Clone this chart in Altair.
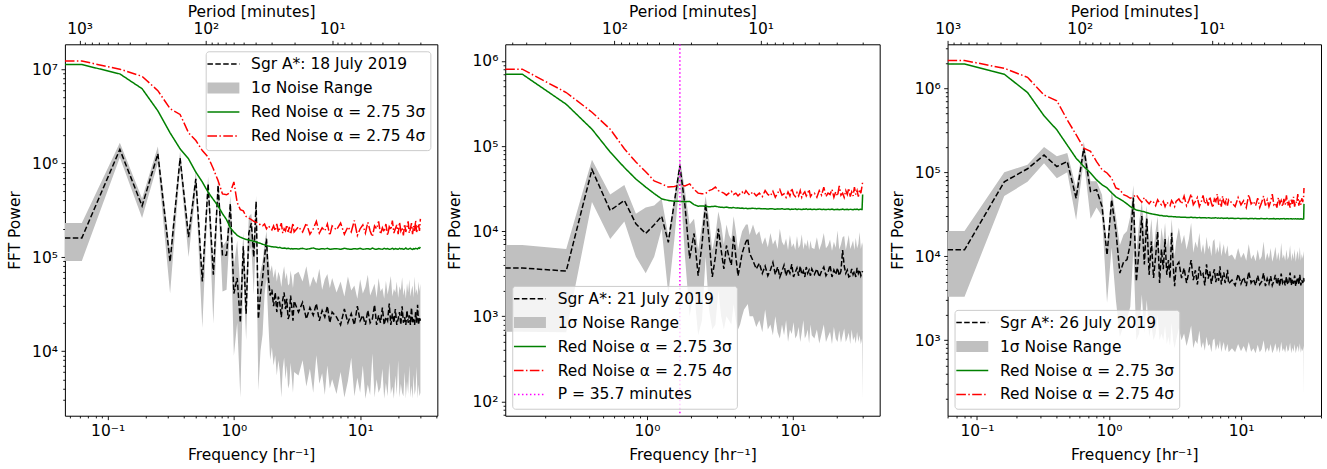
import altair as alt
import pandas as pd

FONT = "DejaVu Sans"
FS = 15.5

# ---------------- Panel 1: 18 July 2019 (bin width 0.0625 hr^-1) ----------------
DF1 = 0.0625
BINS1 = list(range(1, 49)) + list(range(52, 97, 4)) + list(range(104, 481, 8))
BLACK1 = [160, 1400, 350, 1260, 89, 1130, 163, 680, 55, 600, 65, 580, 104, 105, 370, 41, 60, 20, 130, 25,
          180, 230, 100, 390, 22, 40, 60, 100, 157, 60, 39, 45, 30, 42, 26, 38, 32, 23, 35, 42,
          28, 36, 22, 24, 39, 29, 21, 34,
          26, 33, 22, 29, 24, 32, 21, 27, 23, 30, 20, 26,
          23, 19, 28, 20, 25, 19, 30, 21, 24, 19, 27, 20, 22, 31, 19, 24, 20, 29, 19, 23,
          21, 32, 19, 25, 20, 28, 19, 22, 26, 19, 30, 20, 23, 19, 27, 20, 24, 19, 29, 20,
          22, 19, 26, 20, 31, 19, 23, 21]
LO1 = [91, 1150, 260, 1000, 41, 900, 100, 520, 17.6, 480, 19.5, 450, 43, 45, 250, 8.9, 20, 3.2, 70, 13,
       110, 130, 40, 200, 3.8, 10, 15, 40, 60, 20, 8, 11, 7, 9, 5.5, 8, 6, 3.2, 6.5, 8.5,
       5, 7, 4, 4.5, 7.5, 5.2, 3.6, 6,
       5.5, 8, 4.2, 6.5, 3.6, 9, 4.5, 5.8, 3.4, 7, 4, 5,
       3.5, 6, 3.2, 4.8, 8.5, 3.3, 5.2, 3.6, 7, 3.1, 4.4, 3.4, 9.4, 3.2, 5, 3.6, 4.1, 6.5, 3.1, 4.6,
       3.3, 7.5, 3.5, 4.2, 3.1, 5.5, 3.4, 8, 3.2, 4.5, 3.6, 3.3, 6, 3.1, 4.8, 3.5, 7, 3.2, 4.3, 3.1,
       5.6, 3.4, 3.9, 6.8, 3.1, 4.4, 3.3, 3.6]
HI1 = [230, 1650, 420, 1500, 115, 1350, 200, 820, 70, 720, 85, 700, 130, 150, 450, 80, 150, 45, 180, 50,
       270, 290, 140, 450, 50, 70, 90, 140, 190, 100, 70, 82, 60, 75, 55, 70, 62, 48, 66, 80,
       58, 68, 50, 52, 72, 60, 47, 65,
       70, 55, 80, 48, 62, 52, 75, 45, 58, 66, 47, 60,
       42, 55, 38, 62, 44, 50, 36, 58, 41, 48, 65, 39, 45, 52, 37, 60, 43, 47, 36, 56,
       40, 50, 63, 38, 46, 42, 55, 37, 49, 44, 61, 39, 47, 36, 53, 42, 58, 38, 45, 50,
       37, 62, 41, 46, 39, 55, 43, 52]
GREEN1 = [11200, 8900, 6200, 3600, 2100, 1420, 1110, 800, 630, 490, 410, 350, 290, 250, 205, 185, 170, 163, 158, 154,
          152, 150, 147, 145, 142, 140, 137, 135, 133, 131, 130, 129, 128, 128, 127, 126, 127, 125, 124, 125,
          124, 123, 124, 123, 122, 123, 122, 123,
          122, 124, 121, 123, 125, 122, 121, 123, 122, 124, 121, 122,
          123, 121, 124, 122, 121, 123, 122, 124, 121, 122, 123, 121, 125, 122, 121, 123, 122, 121, 124, 122,
          123, 121, 122, 124, 121, 123, 122, 121, 124, 122, 123, 121, 122, 125, 122, 121, 123, 124, 122, 121,
          123, 122, 124, 123, 122, 125, 124, 128]
RED1 = [12200, 10000, 8400, 5900, 3800, 3300, 2100, 1740, 1360, 1160, 870, 650, 470, 460, 490, 630, 380, 320, 310, 270,
        260, 250, 240, 235, 230, 220, 215, 225, 200, 215, 205, 195, 215, 190, 225, 185, 205, 230, 180, 200,
        190, 220, 185, 210, 175, 200, 230, 185,
        210, 185, 230, 175, 200, 240, 180, 205, 190, 225, 170, 215,
        195, 230, 175, 210, 185, 245, 170, 200, 220, 180, 235, 190, 165, 215, 200, 240, 175, 205, 185, 225,
        170, 210, 195, 245, 180, 200, 220, 175, 235, 190, 205, 170, 225, 185, 210, 240, 180, 200, 230, 175,
        215, 190, 245, 185, 205, 225, 190, 255]

# ---------------- Panel 2: 21 July 2019 (bin width 0.14006 hr^-1) ----------------
DF2 = 0.14006
BINS2 = list(range(1, 37)) + list(range(38, 97, 2)) + list(range(100, 213, 4)) + [214]
BLACK2 = [3.7, 3.4, 53, 17.5, 23, 12.2, 9.4, 11.9, 15, 7.4, 22, 59, 20, 4.8, 9.4, 3.0, 7, 21, 8, 2.9,
          5, 10.7, 6, 3.6, 6.8, 5, 4, 9, 5, 3.0, 4, 5.5, 6.5, 7.5, 8.2, 5.5,
          4.5, 3.6, 4.2, 3.2, 3.9, 3.0, 3.5, 4.3, 3.1, 3.8, 2.9, 3.4, 4.0, 3.0, 3.6, 3.2, 4.1, 2.9, 3.3, 3.7,
          3.0, 3.9, 3.1, 3.4, 2.9, 3.8, 3.2, 3.5, 3.0, 3.6,
          3.1, 3.6, 2.9, 3.4, 3.8, 3.0, 3.3, 4.0, 2.9, 3.5, 3.1, 3.7, 3.0, 3.4, 6.0, 3.9, 3.2, 3.5, 2.9, 3.0,
          3.6, 3.1, 3.4, 2.9, 3.7, 3.2, 3.5, 3.0, 3.3, 3.4]
LO2 = [0.66, 0.65, 22, 8.1, 13, 5, 3.2, 5, 10.7, 1.8, 8, 43, 5, 1.0, 2, 0.6, 0.9, 5, 1.2, 0.7,
       0.8, 2, 1, 0.7, 1, 0.9, 0.8, 1.4, 0.9, 0.7, 0.8, 1.0, 1.2, 1.3, 1.4, 1.0,
       1.0, 0.75, 0.9, 0.65, 1.2, 0.7, 0.8, 0.6, 1.0, 0.65, 0.55, 0.8, 0.6, 0.9, 0.5, 0.7, 0.62, 0.85, 0.55, 0.6,
       0.75, 0.5, 0.65, 0.9, 0.55, 0.6, 0.7, 0.48, 0.8, 0.6,
       0.55, 0.7, 0.48, 0.62, 0.8, 0.5, 0.58, 0.66, 0.47, 0.75, 0.55, 0.5, 0.68, 0.49, 0.6, 0.72, 0.5, 0.56, 0.64, 0.47,
       0.7, 0.52, 0.58, 0.48, 0.66, 0.5, 0.6, 0.47, 0.55, 0.105]
HI2 = [6.9, 6.2, 69, 27, 35, 16, 19, 20, 24, 8.9, 25, 71, 30, 12, 14, 6, 12, 26, 14, 6,
       9, 17, 12, 7, 12, 9, 8, 15, 10, 6, 8, 10, 11, 12, 12, 9,
       12, 9, 10, 7, 8.5, 6.5, 9.5, 7, 8, 6.2, 10.7, 7.5, 6.8, 8.2, 6, 9, 6.5, 7.2, 6, 8.8,
       6.3, 7, 9.2, 6.1, 7.4, 6.6, 8, 6, 7.8, 6.4,
       6.2, 8.5, 6.0, 7.2, 9.5, 6.3, 6.8, 8.0, 5.9, 7.5, 6.4, 10.2, 6.1, 7.0, 8.5, 8.8, 6.0, 7.3, 9.0, 6.2,
       6.9, 7.8, 6.0, 8.4, 6.3, 7.1, 9.8, 6.2, 7.4, 6.8]
GREEN2 = [700, 310, 158, 85, 56, 41, 33, 27.7, 24, 23, 22.5, 22.4, 22.2, 22.4, 20.5, 19.7, 19.8, 19.6, 19.4, 19.5,
          19.7, 19.3, 19.1, 19.0, 19.2, 18.9, 18.8, 19.0, 18.7, 18.8, 18.6, 18.7, 18.5, 18.6, 18.4, 18.5,
          18.6, 18.4, 18.5, 18.3, 18.4, 18.2, 18.4, 18.3, 18.1, 18.3, 18.2, 18.4, 18.1, 18.2, 18.3, 18.0, 18.2, 18.1,
          18.3, 18.0, 18.2, 18.1, 18.0, 18.2, 18.1, 18.3, 18.0, 18.1, 18.2, 18.0,
          18.1, 18.0, 18.2, 18.0, 18.1, 17.9, 18.1, 18.0, 18.2, 17.9, 18.0, 18.1, 17.9, 18.0, 18.2, 17.9, 18.0, 18.1,
          17.9, 18.1, 18.0, 17.9, 18.1, 18.0, 18.2, 17.9, 18.0, 18.1, 18.0, 27.0]
RED2 = [800, 426, 250, 158, 93, 65, 50, 39, 36, 33, 33.5, 35, 34, 36, 31, 28, 27.5, 27.7, 30, 31,
        33, 30, 29, 28, 26.5, 28, 29.5, 27, 28, 26, 27.5, 29, 27, 30, 28, 26.5,
        29, 26, 28, 25.5, 30, 27, 26, 29.5, 25, 28, 31, 26.5, 27.5, 25, 29, 26, 32, 27, 25.5, 28.5,
        26, 30, 25, 27.5, 29, 26, 28, 31, 25.5, 27,
        28, 25, 30, 26.5, 33, 25.5, 28, 27, 31, 25, 29, 26, 34, 26.5, 28, 25, 30, 27, 32, 25.5,
        29, 26, 33, 27, 30, 25.5, 31, 28, 34, 38]
PERIOD2 = 35.7

# ---------------- Panel 3: 26 July 2019 (bin width 0.0805 hr^-1) ----------------
DF3 = 0.0805
BINS3 = list(range(1, 41)) + list(range(42, 101, 2)) + list(range(106, 371, 6)) + [372]
BLACK3 = [11.9, 77, 110, 160, 117, 134, 49, 193, 59, 62, 39, 10.3, 47, 20, 6.3, 8.5, 9.1, 14, 50, 5.0,
          12, 30, 8, 28, 6, 15, 5.5, 10, 19.5, 4.8, 12, 7, 16, 6, 9, 5.5, 19, 8, 4.4, 7.6,
          8.5, 5.5, 7.2, 4.8, 6.5, 9.0, 5.2, 6.8, 4.6, 7.5, 5.8, 6.2, 4.5, 8.0, 5.4, 6.6, 4.7, 5.9, 7.0, 4.9,
          6.3, 5.1, 7.6, 4.6, 5.7, 6.4, 4.8, 5.5, 6.9, 4.7,
          5.2, 4.5, 6.1, 4.7, 5.6, 4.4, 6.5, 4.8, 5.3, 4.5, 5.9, 4.6, 5.0, 6.3, 4.4, 5.4, 4.7, 5.8, 4.5, 5.1,
          6.0, 4.6, 5.5, 4.4, 6.2, 4.8, 5.2, 4.5, 5.7, 4.6, 5.0, 6.4, 4.5, 5.3, 4.7, 5.9, 4.4, 5.1, 5.6, 4.6,
          6.0, 4.5, 5.2, 4.8, 5.5, 5.0]
LO3 = [3.3, 52, 77, 128, 85, 100, 27, 140, 28, 38, 30, 2.8, 12.6, 3, 1.1, 1.5, 1.8, 2.5, 12, 1.0,
       1.2, 3.5, 1.2, 3, 1.1, 1.5, 1.0, 1.2, 2, 1.0, 1.2, 1.0, 1.5, 0.9, 1.1, 0.85, 1.6, 1.0, 0.8, 1.0,
       1.4, 1.0, 1.2, 0.85, 1.1, 1.5, 0.8, 1.0, 0.9, 1.3, 0.8, 0.95, 0.75, 1.1, 0.85, 0.9, 0.72, 1.0, 1.05, 0.75,
       0.9, 0.78, 1.0, 0.72, 0.85, 0.95, 0.74, 0.8, 0.9, 0.72,
       0.8, 0.72, 0.9, 0.74, 0.85, 0.71, 0.95, 0.73, 0.8, 0.7, 0.88, 0.72, 0.78, 1.0, 0.71, 0.82, 0.73, 0.9, 0.7, 0.78,
       0.92, 0.72, 0.84, 0.7, 0.96, 0.74, 0.8, 0.71, 0.88, 0.73, 0.77, 0.93, 0.7, 0.82, 0.73, 0.9, 0.7, 0.79, 0.86, 0.72,
       0.92, 0.71, 0.8, 0.74, 0.85, 0.215]
HI3 = [20, 100, 123, 200, 155, 170, 65, 230, 78, 78, 54, 13.5, 62, 30, 13.5, 18, 20, 30, 70, 11,
       25, 45, 20, 40, 15, 28, 12, 20, 30, 11, 22, 15, 25, 13, 18, 12, 28, 16, 10, 15,
       22, 14, 18, 12, 16, 25, 11, 15, 12.5, 19, 11, 14, 10.5, 17, 12, 13.5, 10, 15, 16, 10.5,
       13, 11, 15.5, 10, 12, 14, 10.5, 11.5, 13.5, 10,
       10.5, 9.0, 12.5, 9.5, 11, 8.8, 14, 9.2, 10.5, 8.7, 12, 9.0, 10, 15, 8.8, 11, 9.3, 12.5, 8.6, 10.2,
       13, 9.0, 11.2, 8.7, 14.5, 9.4, 10.5, 8.8, 12, 9.1, 10, 13.5, 8.7, 11, 9.2, 12.2, 8.6, 10.4, 11.6, 9.0,
       13, 8.8, 10.6, 9.3, 11.5, 9.5]
GREEN3 = [1950, 1470, 890, 470, 320, 210, 147, 117, 98, 81, 71, 65, 57, 51, 48, 45, 42, 39, 37, 35.5,
          35, 34.3, 33.8, 33, 32.4, 32, 31.6, 31.3, 31, 30.6, 30.5, 30.2, 30, 30.1, 29.8, 29.7, 29.8, 29.5, 29.6, 29.4,
          29.3, 29.1, 29.2, 29.0, 28.9, 29.1, 28.8, 28.9, 28.7, 28.9, 28.6, 28.8, 28.7, 28.5, 28.7, 28.6, 28.4, 28.6,
          28.5, 28.7, 28.4, 28.5, 28.3, 28.5, 28.4, 28.2, 28.4, 28.3, 28.5, 28.2,
          28.3, 28.1, 28.3, 28.0, 28.2, 28.1, 27.9, 28.2, 28.0, 28.1, 27.9, 28.0, 28.2, 27.9, 28.0, 28.1, 27.8, 28.0,
          27.9, 28.1, 27.8, 28.0, 27.9, 27.8, 28.0, 27.9, 28.1, 27.8, 27.9, 28.0, 27.8, 27.9, 28.0, 27.7, 27.9, 27.8,
          28.0, 27.7, 27.9, 27.8, 27.7, 27.9, 27.8, 27.6, 27.8, 42]
RED3 = [2140, 1730, 1350, 830, 710, 420, 280, 193, 177, 134, 107, 98, 85, 65, 62, 54, 52, 49, 51, 54,
        48, 44, 50, 45, 42, 46, 44, 40, 47, 43, 41, 45, 39, 44, 42, 40, 46, 43, 39, 45,
        48, 42, 52, 40, 46, 55, 41, 45, 50, 39, 44, 53, 42, 47, 40, 51, 43, 38, 48, 45,
        55, 41, 46, 39, 52, 44, 42, 49, 40, 47,
        43, 39, 50, 41, 46, 38, 54, 42, 45, 40, 49, 38, 44, 52, 40, 47, 39, 45, 55, 41,
        43, 38, 50, 42, 46, 39, 48, 41, 53, 40, 44, 38, 47, 42, 51, 39, 45, 43, 55, 40,
        46, 41, 49, 44, 52, 65]

UNIT = 1e3  # all power values above are in thousands

LBL_NOISE = "1σ Noise Range"
LBL_3S = "Red Noise α = 2.75 3σ"
LBL_4S = "Red Noise α = 2.75 4σ"
LBL_P = "P = 35.7 minutes"

SUPS = {-2: "⁻²", -1: "⁻¹", 0: "⁰", 1: "¹", 2: "²", 3: "³", 4: "⁴", 5: "⁵", 6: "⁶", 7: "⁷", 8: "⁸"}
EXP = "round(log(datum.value)/LN10)"
MAJOR = "abs(log(datum.value)/LN10 - round(log(datum.value)/LN10)) < 0.001"
chain = "''"
for e in sorted(SUPS, reverse=True):
    chain = f"({EXP} == {e} ? '{SUPS[e]}' : {chain})"
LABEL_EXPR = f"{MAJOR} ? '10' + {chain} : ''"


def dash_path(pattern, half_h, x0=-16.0, x1=16.0):
    """Legend glyph: filled segments following a dash pattern (pixel units)."""
    parts, x, i = [], x0, 0
    while x < x1 - 0.3:
        seg = pattern[i % len(pattern)]
        if i % 2 == 0:
            xe = min(x + seg, x1)
            parts.append(f"M{x:.2f},{-half_h}H{xe:.2f}V{half_h}H{x:.2f}Z")
        x += seg
        i += 1
    return "".join(parts)


def log_ticks(lo, hi):
    vals = []
    for e in range(-3, 9):
        for m in range(1, 10):
            v = m * 10.0 ** e
            if lo <= v <= hi:
                vals.append(v)
    return vals


def axis(orient, title, values, title_padding):
    return alt.Axis(
        orient=orient, title=title, values=values, labelExpr=LABEL_EXPR,
        tickSize={"condition": {"test": MAJOR, "value": 3.9}, "value": 2.2},
        tickWidth=0.9, tickColor="black", domain=False, grid=False,
        labelFont=FONT, labelFontSize=FS, labelColor="black", labelPadding=3.5,
        titleFont=FONT, titleFontSize=FS, titleFontWeight="normal", titleColor="black",
        titlePadding=title_padding, labelOverlap=False, labelFlush=False,
    )


def panel(df, bins, black, lo, hi, green, red, xdom, ydom, date_lbl, width, orient, period=None):
    series = [black, lo, hi, green, red]
    assert all(len(s) == len(bins) for s in series), [len(s) for s in series]
    freqs = [b * df for b in bins]
    # the DC bin (f = 0) is clipped by the log axis: it shows as a flat run to the left frame edge
    fr = [xdom[0]] + freqs
    ext = lambda v: [v[0] * UNIT] + [x * UNIT for x in v]
    blk, low, high, grn, rd = (ext(s) for s in series)

    labels = [f"Sgr A*: {date_lbl}", LBL_NOISE, LBL_3S, LBL_4S]
    colors = ["black", "#c0c0c0", "#008000", "#ff0000"]
    dashes = [[5.5, 2.4], [1, 0], [1, 0], [9.6, 2.4, 1.5, 2.4]]
    glyphs = [dash_path([5.5, 2.4], 0.75), "M-16,-5.5H16V5.5H-16Z", "M-16,-0.75H16V0.75H-16Z",
              dash_path([9.6, 2.4, 1.5, 2.4], 0.75)]
    if period is not None:
        labels.append(LBL_P)
        colors.append("#ff00ff")
        dashes.append([1.5, 2.5])
        glyphs.append(dash_path([1.5, 2.5], 0.75))
    glyph_expr = "'circle'"
    for lbl, g in reversed(list(zip(labels, glyphs))):
        glyph_expr = f"(datum.value == '{lbl}' ? '{g}' : {glyph_expr})"

    band_df = pd.DataFrame({"freq": fr, "lo": low, "hi": high, "period": [60.0 / f for f in fr]})
    rows = []
    for lbl, vals in [(labels[0], blk), (LBL_3S, grn), (LBL_4S, rd)]:
        for f, v in zip(fr, vals):
            rows.append({"freq": f, "power": v, "series": lbl})
    line_df = pd.DataFrame(rows)
    # legend carrier: one entry per label, placed outside the plotted domain (clipped away)
    key_df = pd.DataFrame({"key": labels, "freq": [xdom[0] / 10] * len(labels),
                           "power": [ydom[0] / 10] * len(labels)})

    xs = alt.Scale(type="log", domain=list(xdom), nice=False)
    ys = alt.Scale(type="log", domain=list(ydom), nice=False)
    xax = axis("bottom", "Frequency [hr⁻¹]", log_ticks(*xdom), 9)
    yax = axis("left", "FFT Power", log_ticks(*ydom), 9)
    tax = axis("top", "Period [minutes]", log_ticks(60.0 / xdom[1], 60.0 / xdom[0]), 2)

    leg = alt.Legend(
        title=None, orient=orient, offset=7, fillColor="rgba(255,255,255,0.8)", strokeColor="#cccccc",
        cornerRadius=3, padding=5, labelFont=FONT, labelFontSize=FS, labelColor="black", labelLimit=400,
        symbolSize=4, symbolOffset=5, labelOffset=20, rowPadding=7,
        symbolType=alt.ExprRef(expr=glyph_expr), symbolStrokeWidth=0,
    )
    cs = alt.Scale(type="ordinal", domain=labels, range=colors)
    ds = alt.Scale(type="ordinal", domain=labels, range=dashes)

    band = alt.Chart(band_df).mark_area(color="#c0c0c0", opacity=1, clip=True).encode(
        x=alt.X("freq:Q", scale=xs, axis=xax),
        y=alt.Y("lo:Q", scale=ys, axis=yax),
        y2="hi:Q",
    )
    lines = alt.Chart(line_df).mark_line(clip=True, strokeWidth=1.5).encode(
        x=alt.X("freq:Q", scale=xs, axis=xax),
        y=alt.Y("power:Q", scale=ys, axis=yax),
        order=alt.Order("freq:Q"),
        color=alt.Color("series:N", scale=cs, legend=None),
        strokeDash=alt.StrokeDash("series:N", scale=ds, legend=None),
    )
    inner = [band, lines]
    if period is not None:
        rule_df = pd.DataFrame({"freq": [60.0 / period], "series": [LBL_P]})
        inner.append(alt.Chart(rule_df).mark_rule(clip=True, strokeWidth=1.5).encode(
            x=alt.X("freq:Q", scale=xs, axis=xax),
            color=alt.Color("series:N", scale=cs, legend=None),
            strokeDash=alt.StrokeDash("series:N", scale=ds, legend=None),
        ))
    drawn = alt.layer(*inner)
    keys = alt.Chart(key_df).mark_point(filled=True, size=4, opacity=1, clip=True).encode(
        x=alt.X("freq:Q", scale=xs, axis=xax),
        y=alt.Y("power:Q", scale=ys, axis=yax),
        color=alt.Color("key:N", scale=cs, legend=leg),
    )
    base = alt.layer(drawn, keys).resolve_scale(color="independent")
    top = alt.Chart(band_df).mark_point(opacity=0).encode(
        x=alt.X("period:Q", scale=alt.Scale(type="log", domain=[60.0 / xdom[1], 60.0 / xdom[0]],
                                             reverse=True, nice=False), axis=tax),
        y=alt.Y("hi:Q", scale=ys, axis=yax),
    )
    return alt.layer(base, top).resolve_scale(x="independent").properties(width=width, height=372)


p1 = panel(DF1, BINS1, BLACK1, LO1, HI1, GREEN1, RED1, (0.0459, 40.86), (2050, 1.84e7),
           "18 July 2019", 373, "top-right")
p2 = panel(DF2, BINS2, BLACK2, LO2, HI2, GREEN2, RED2, (0.1071, 39.2), (68, 1.57e6),
           "21 July 2019", 375, "bottom-left", period=PERIOD2)
p3 = panel(DF3, BINS3, BLACK3, LO3, HI3, GREEN3, RED3, (0.0599, 40.3), (126, 3.34e6),
           "26 July 2019", 374, "bottom-left")

chart = alt.hconcat(p1, p2, p3, spacing=9).resolve_scale(
    color="independent", strokeDash="independent"
).properties(
    padding={"left": 7, "top": 4, "right": 5, "bottom": 2}, background="white"
).configure_view(stroke="black", strokeWidth=1)

chart.save("out.html", embed_options={"renderer": "svg", "actions": False})
